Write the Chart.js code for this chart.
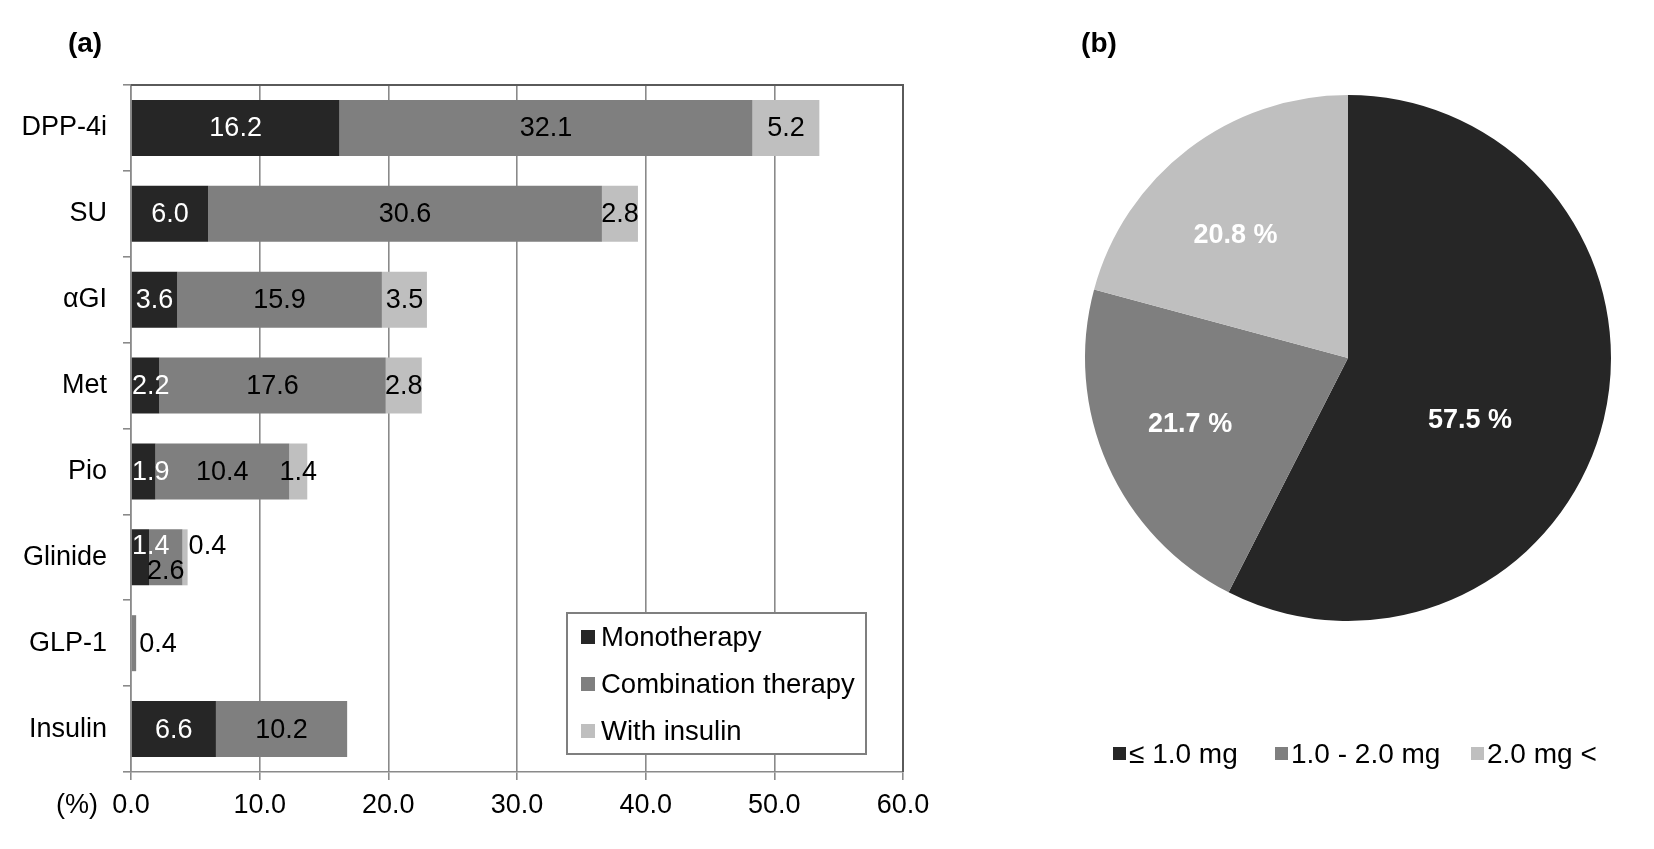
<!DOCTYPE html>
<html><head><meta charset="utf-8">
<script src="https://cdn.jsdelivr.net/npm/chart.js@4"></script>
<style>
html,body{margin:0;padding:0;background:#fff;width:1654px;height:849px;overflow:hidden}
#ca{position:absolute;left:0;top:0}
#cb{position:absolute;left:1050px;top:0}
</style></head><body>
<canvas id="ca" width="1000" height="849"></canvas>
<canvas id="cb" width="604" height="849"></canvas>
<script>
const categories = ['DPP-4i','SU','αGI','Met','Pio','Glinide','GLP-1','Insulin'];
const seriesNames = ['Monotherapy','Combination therapy','With insulin'];
const monotherapy = [16.2, 6.0, 3.6, 2.2, 1.9, 1.4, 0, 6.6];
const combination = [32.1, 30.6, 15.9, 17.6, 10.4, 2.6, 0.4, 10.2];
const withInsulin = [5.2, 2.8, 3.5, 2.8, 1.4, 0.4, 0, 0];
const xTicks = [0, 10, 20, 30, 40, 50, 60];
const doseLabels = ['≤ 1.0 mg', '1.0 - 2.0 mg', '2.0 mg <'];
const doseShares = [57.5, 21.7, 20.8];

const COLORS = ['#262626', '#7f7f7f', '#bfbfbf'];
const FONT = '"Liberation Sans", Arial, sans-serif';
Chart.defaults.font.family = FONT;
Chart.defaults.color = '#000';

const barLabels = {
  id: 'barLabels',
  afterDatasetsDraw(chart) {
    const ctx = chart.ctx, area = chart.chartArea;
    ctx.save();
    ctx.font = '27px ' + FONT;
    ctx.textBaseline = 'middle';
    ctx.textAlign = 'center';
    chart.data.datasets.forEach((ds, di) => {
      const meta = chart.getDatasetMeta(di);
      meta.data.forEach((bar, i) => {
        const v = ds.data[i];
        if (!v) return;
        const p = bar.getProps(['x', 'y', 'base'], true);
        const left = Math.min(p.x, p.base), right = Math.max(p.x, p.base);
        const txt = v.toFixed(1);
        const w = ctx.measureText(txt).width;
        let cx = (left + right) / 2, cy = p.y;
        const cat = categories[i];
        if (cat === 'Glinide') {
          if (di === 0) cy = p.y - 12;
          else if (di === 1) cy = p.y + 13;
          else { cx = right + 1 + w / 2; cy = p.y - 12; }
        }
        if (cat === 'GLP-1' && di === 1) cx = right + 3 + w / 2;
        if (cx - w / 2 < area.left + 1) cx = area.left + 1 + w / 2;
        ctx.fillStyle = di === 0 ? '#fff' : '#000';
        ctx.fillText(txt, cx, cy + 1);
      });
    });
    ctx.restore();
  }
};

const barDecor = {
  id: 'barDecor',
  afterDraw(chart) {
    const ctx = chart.ctx, a = chart.chartArea;
    ctx.save();
    ctx.strokeStyle = '#5a5a5a';
    ctx.lineWidth = 2;
    ctx.beginPath();
    ctx.moveTo(a.left, a.top); ctx.lineTo(a.right, a.top); ctx.lineTo(a.right, a.bottom);
    ctx.stroke();
    ctx.fillStyle = '#000';
    ctx.font = 'bold 28px ' + FONT;
    ctx.textAlign = 'center'; ctx.textBaseline = 'middle';
    ctx.fillText('(a)', 85, 44);
    ctx.font = '27px ' + FONT;
    ctx.textAlign = 'right';
    const x0 = chart.scales.x.getPixelForValue(0);
    ctx.fillText('(%)', x0 - 33, 806);
    const bx = a.right - 336, by = a.bottom - 159, bw = 299, bh = 141;
    ctx.fillStyle = '#fff';
    ctx.fillRect(bx, by, bw, bh);
    ctx.strokeStyle = '#7f7f7f';
    ctx.lineWidth = 2;
    ctx.strokeRect(bx, by, bw, bh);
    ctx.textAlign = 'left';
    ctx.font = '27.5px ' + FONT;
    seriesNames.forEach((n, k) => {
      const cy = by + 24 + k * 47;
      ctx.fillStyle = COLORS[k];
      ctx.fillRect(bx + 14, cy - 7, 14, 14);
      ctx.fillStyle = '#000';
      ctx.fillText(n, bx + 34, cy + 1);
    });
    ctx.restore();
  }
};

new Chart(document.getElementById('ca'), {
  type: 'bar',
  data: {
    labels: categories,
    datasets: [
      { label: seriesNames[0], data: monotherapy, backgroundColor: COLORS[0] },
      { label: seriesNames[1], data: combination, backgroundColor: COLORS[1] },
      { label: seriesNames[2], data: withInsulin, backgroundColor: COLORS[2] }
    ]
  },
  options: {
    indexAxis: 'y',
    responsive: false,
    animation: false,
    barPercentage: 0.652,
    categoryPercentage: 1,
    layout: { padding: { top: 85, right: 97, left: 0, bottom: 0 } },
    plugins: { legend: { display: false }, tooltip: { enabled: false } },
    scales: {
      x: {
        stacked: true, min: 0, max: 60,
        afterBuildTicks(s) { s.ticks = xTicks.map(v => ({ value: v })); },
        afterFit(s) { s.height = 77; },
        ticks: { font: { size: 27 }, color: '#000', padding: 9, maxRotation: 0,
                 callback: v => Number(v).toFixed(1) },
        grid: { color: '#8a8a8a', lineWidth: 1.6, tickLength: 8 },
        border: { color: '#8a8a8a', width: 1.6 }
      },
      y: {
        stacked: true,
        afterFit(s) { s.width = 131; },
        ticks: { font: { size: 27 }, color: '#000', padding: 16 },
        grid: { drawOnChartArea: false, drawTicks: true, tickLength: 8, color: '#8a8a8a', lineWidth: 1.6, offset: true },
        border: { color: '#8a8a8a', width: 1.6 }
      }
    }
  },
  plugins: [barLabels, barDecor]
});

const pieDecor = {
  id: 'pieDecor',
  afterDraw(chart) {
    const ctx = chart.ctx;
    const radial = [0.52, 0.65, 0.635];
    const nudge = [13.4, 1.4, -4.9];
    ctx.save();
    ctx.font = 'bold 27px ' + FONT;
    ctx.fillStyle = '#fff';
    ctx.textAlign = 'center'; ctx.textBaseline = 'middle';
    chart.getDatasetMeta(0).data.forEach((arc, i) => {
      const p = arc.getProps(['x', 'y', 'startAngle', 'endAngle', 'outerRadius'], true);
      const mid = (p.startAngle + p.endAngle) / 2 + nudge[i] * Math.PI / 180;
      const r = p.outerRadius * radial[i];
      ctx.fillText(doseShares[i].toFixed(1) + ' %', p.x + Math.cos(mid) * r, p.y + Math.sin(mid) * r + 1);
    });
    ctx.fillStyle = '#000';
    ctx.font = 'bold 28px ' + FONT;
    ctx.fillText('(b)', 49, 44);
    ctx.font = '28px ' + FONT;
    ctx.textAlign = 'left';
    const xs = [63, 225, 421];
    doseLabels.forEach((t, k) => {
      ctx.fillStyle = COLORS[k];
      ctx.fillRect(xs[k], 747, 13, 13);
      ctx.fillStyle = '#000';
      ctx.fillText(t, xs[k] + 16, 755);
    });
    ctx.restore();
  }
};

new Chart(document.getElementById('cb'), {
  type: 'pie',
  data: {
    labels: doseLabels,
    datasets: [{ data: doseShares, backgroundColor: COLORS, borderWidth: 0 }]
  },
  options: {
    responsive: false,
    animation: false,
    layout: { padding: { left: 35, top: 95, right: 43, bottom: 228 } },
    plugins: { legend: { display: false }, tooltip: { enabled: false } }
  },
  plugins: [pieDecor]
});
</script>
</body></html>
